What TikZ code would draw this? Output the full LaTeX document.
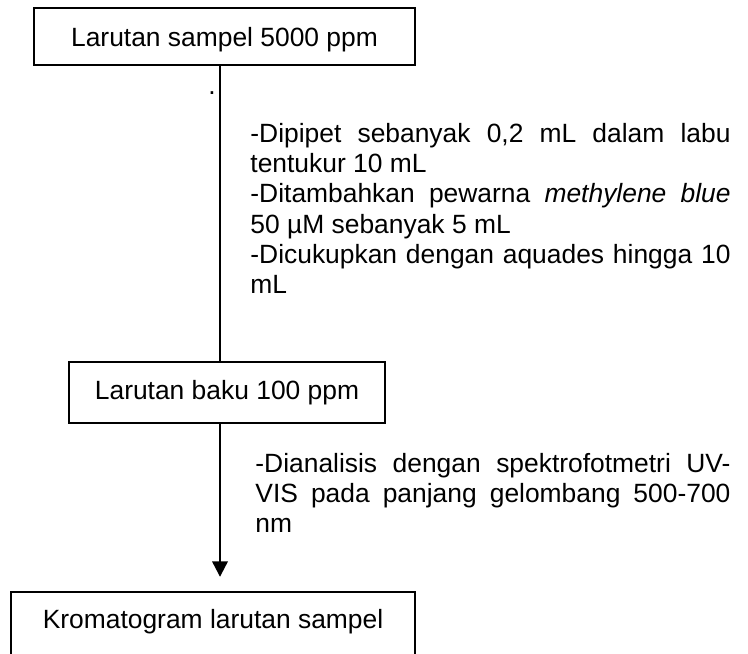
\documentclass[tikz,border=0pt]{standalone}
\usepackage{fontspec}
\setmainfont{Liberation Sans}
\usetikzlibrary{arrows.meta}
\begin{document}
\begin{tikzpicture}[x=0.4545pt,y=-0.4545pt,
  txt/.style={font=\fontsize{12pt}{13.8pt}\selectfont},
  flowbox/.style={txt,draw,line width=1pt,inner sep=0pt,text height=8.64pt,text depth=0pt},
  conn/.style={line width=1pt},
  note/.style={txt,inner sep=0pt,anchor=base west}]
\useasboundingbox[fill=white] (0,0) rectangle (748,653);
\node[flowbox,minimum width=173.2pt,minimum height=25.9pt] (b1) at (224.5,36.5) {Larutan sampel 5000 ppm};
\node[flowbox,minimum width=143.6pt,minimum height=27.7pt,text depth=2.73pt] (b2) at (227,392.5) {Larutan baku 100 ppm};
\node[flowbox,minimum width=183.6pt,minimum height=33.2pt,text depth=8.64pt] (b3) at (213,628.5) {Kromatogram larutan sampel};
\coordinate (spine) at (220,0);
\draw[conn] (b1.south -| spine) -- (b2.north -| spine);
\draw[conn,-{Triangle[length=7pt,width=7pt]},shorten >=6.4pt] (b2.south -| spine) -- (b3.north -| spine);
\node[txt,inner sep=0pt] (dot) at (212,93) {.};
\node[note] (n1) at (250,142) {\begin{minipage}[t]{218.2pt}\fontsize{12pt}{13.8pt}\selectfont\parindent=0pt\hyphenpenalty=10000
-Dipipet sebanyak 0,2 mL dalam labu\linebreak
tentukur 10 mL\newline
-Ditambahkan pewarna \textit{methylene blue}\linebreak
50 µM sebanyak 5 mL\newline
-Dicukupkan dengan aquades hingga 10\linebreak
mL\end{minipage}};
\node[note] (n2) at (255,472) {\begin{minipage}[t]{215.9pt}\fontsize{12pt}{13.8pt}\selectfont\parindent=0pt\hyphenpenalty=10000
-Dianalisis dengan spektrofotmetri UV-\linebreak
VIS pada panjang gelombang 500-700\linebreak
nm\end{minipage}};
\end{tikzpicture}
\end{document}
